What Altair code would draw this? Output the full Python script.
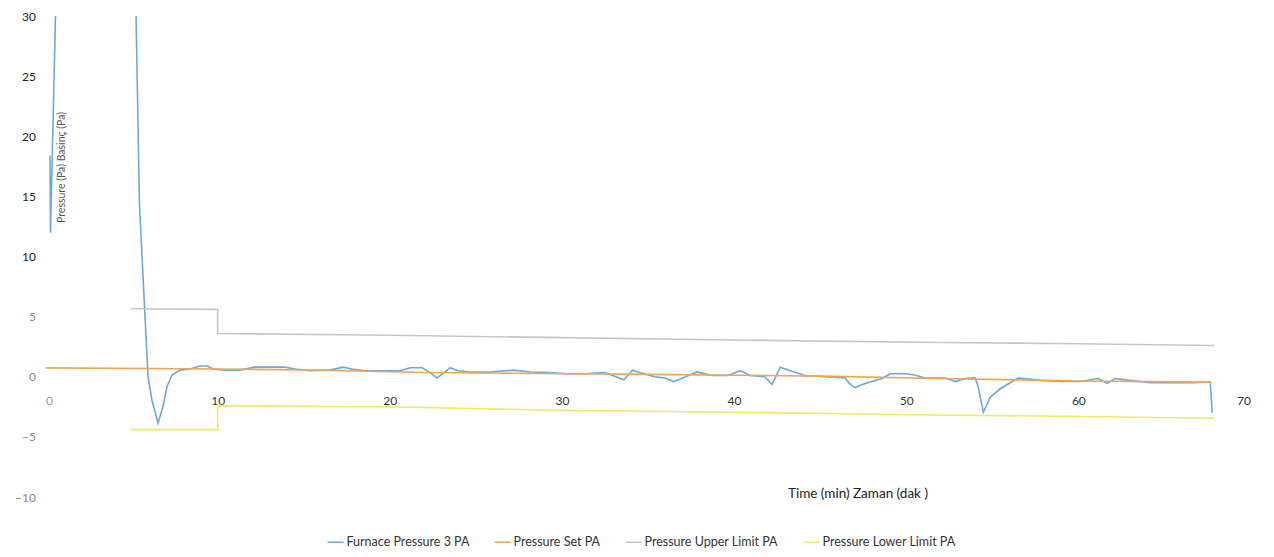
import altair as alt
import pandas as pd

# ---- data ----
furnace_t = [0.26, 0.29, 0.58, 0.64, 5.17, 5.26, 5.46, 5.78, 5.96, 6.19, 6.54, 6.83, 7.06, 7.35,
             7.82, 8.40, 8.97, 9.38, 9.73, 10.43, 11.3, 12.17, 13.0, 13.9, 14.5, 15.37, 16.5,
             17.29, 17.8, 18.57, 19.73, 20.6, 21.18, 21.88, 22.34, 22.75, 23.16, 23.5, 23.97,
             24.67, 25.8, 27.16, 28.15, 29.3, 30.2, 31.35, 32.5, 33.6, 34.1, 34.5, 35.4, 36.0,
             36.5, 37.2, 37.85, 38.7, 39.65, 40.36, 40.94, 41.8, 42.2, 42.68, 43.26, 44.13,
             45.3, 46.45, 46.75, 47.04, 47.45, 48.0, 48.6, 49.07, 49.94, 50.5, 51.1, 52.27,
             52.85, 53.43, 54.0, 54.18, 54.48, 54.88, 55.46, 56.04, 56.5, 56.9, 57.8, 58.95,
             60.1, 61.15, 61.68, 62.14, 63.0, 64.2, 65.6, 66.8, 67.66, 67.78]
furnace_v = [18.4, 12.0, 30.0, 33.0, 33.0, 30.0, 14.3, 5.0, 0.0, -2.0, -3.85, -2.45, -0.8, 0.15,
             0.55, 0.65, 0.9, 0.9, 0.65, 0.55, 0.55, 0.8, 0.8, 0.8, 0.65, 0.5, 0.55,
             0.8, 0.65, 0.5, 0.5, 0.5, 0.75, 0.75, 0.35, -0.1, 0.35, 0.75, 0.5,
             0.4, 0.4, 0.55, 0.4, 0.35, 0.25, 0.25, 0.35, -0.25, 0.55, 0.35, 0.0, -0.1,
             -0.4, 0.0, 0.4, 0.1, 0.1, 0.5, 0.1, 0.0, -0.65, 0.8, 0.5, 0.1,
             0.0, -0.1, -0.65, -0.9, -0.65, -0.4, -0.15, 0.25, 0.25, 0.15, -0.1, -0.1,
             -0.4, -0.15, -0.1, -0.8, -2.95, -1.7, -1.0, -0.5, -0.1, -0.15, -0.3, -0.4,
             -0.4, -0.15, -0.55, -0.15, -0.3, -0.5, -0.5, -0.5, -0.4, -3.0]

set_t = [0.0, 10.0, 16.0, 22.0, 35.0, 45.0, 52.0, 60.0, 67.7]
set_v = [0.74, 0.65, 0.55, 0.35, 0.2, 0.05, -0.15, -0.35, -0.45]

upper_t = [4.95, 10.0, 10.0, 20.0, 30.0, 40.0, 52.0, 60.0, 67.9]
upper_v = [5.65, 5.6, 3.6, 3.45, 3.25, 3.05, 2.85, 2.75, 2.6]

lower_t = [4.95, 10.0, 10.0, 20.0, 30.0, 40.0, 53.0, 60.0, 67.9]
lower_v = [-4.4, -4.4, -2.4, -2.5, -2.8, -2.95, -3.2, -3.3, -3.45]

series_names = ["Furnace Pressure 3 PA", "Pressure Set PA",
                "Pressure Upper Limit PA", "Pressure Lower Limit PA"]
series_colors = ["#6aa8de", "#f0a458", "#c6c6c6", "#efe968"]

x_ticks = [0, 10, 20, 30, 40, 50, 60, 70]
y_ticks = [-10, -5, 0, 5, 10, 15, 20, 25, 30]

rows = []
for name, ts, vs in zip(series_names,
                        [furnace_t, set_t, upper_t, lower_t],
                        [furnace_v, set_v, upper_v, lower_v]):
    for i, (t, v) in enumerate(zip(ts, vs)):
        rows.append({"series": name, "t": t, "v": v, "idx": i})
df = pd.DataFrame(rows)

FONT = "Lato"

chart = alt.Chart(df).mark_line(clip=True, strokeWidth=1.6).encode(
    x=alt.X("t:Q",
            scale=alt.Scale(domain=[0, 70], nice=False, zero=False),
            axis=alt.Axis(values=x_ticks, title="Time (min) Zaman (dak )",
                          offset=-120.25, domain=False, ticks=False, grid=False,
                          labelBaseline="middle", labelPadding=24,
                          labelFontSize=12, labelFont=FONT,
                          labelColor={"condition": {"test": "datum.value == 0", "value": "#999999"},
                                      "value": "#333333"},
                          titleX=812, titleY=117, titleAlign="center",
                          titleBaseline="middle", titleFontSize=13.5,
                          titleFont=FONT, titleFontWeight="normal",
                          titleColor="#222222")),
    y=alt.Y("v:Q",
            scale=alt.Scale(domain=[-10, 30], nice=False, zero=False),
            axis=alt.Axis(values=y_ticks, title="Pressure (Pa) Basinç (Pa)",
                          domain=False, ticks=False, grid=False,
                          labelPadding=10, labelFontSize=12, labelFont=FONT,
                          labelColor={"condition": {"test": "datum.value >= 10", "value": "#222222"},
                                      "value": "#888888"},
                          titleX=16, titleY=151, titleAngle=270,
                          titleAlign="center", titleBaseline="middle",
                          titleFontSize=10.5, titleFont=FONT,
                          titleFontWeight="normal", titleColor="#555555")),
    color=alt.Color("series:N",
                    scale=alt.Scale(domain=series_names, range=series_colors),
                    legend=alt.Legend(title=None, orient="none", direction="horizontal",
                                      legendX=281, legendY=517,
                                      symbolType="stroke", symbolSize=256,
                                      symbolStrokeWidth=1.5, labelOffset=2,
                                      columnPadding=22, labelFontSize=12.5,
                                      labelFont=FONT, labelColor="#333333",
                                      padding=0)),
    detail="series:N",
    order="idx:Q",
).properties(
    width=1205, height=481,
    background="white",
    autosize=alt.AutoSizeParams(type="none"),
    padding={"left": 37.5, "top": 8, "right": 14, "bottom": 52},
).configure_view(stroke=None)

chart.save("out.html", embed_options={"renderer": "svg", "actions": False})
